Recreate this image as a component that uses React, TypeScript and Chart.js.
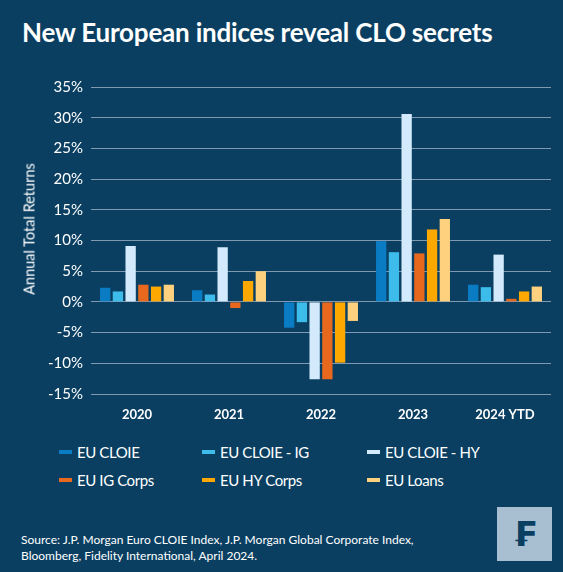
import React, { useEffect, useRef } from "react";
import { Chart, registerables } from "chart.js";

Chart.register(...registerables);

const categories = ["2020", "2021", "2022", "2023", "2024 YTD"];
const seriesNames = ["EU CLOIE", "EU CLOIE - IG", "EU CLOIE - HY", "EU IG Corps", "EU HY Corps", "EU Loans"];
const euCloie = [2.3, 1.9, -4.2, 9.9, 2.8];
const euCloieIG = [1.7, 1.2, -3.3, 8.1, 2.4];
const euCloieHY = [9.1, 8.9, -12.6, 30.6, 7.7];
const euIGCorps = [2.8, -1.0, -12.6, 7.9, 0.5];
const euHYCorps = [2.5, 3.4, -9.9, 11.8, 1.7];
const euLoans = [2.8, 5.0, -3.1, 13.5, 2.5];
const seriesColors = ["#0a7cc4", "#3dbbeb", "#d2eafb", "#e8691e", "#fca800", "#fed17e"];
const yTicks = [-15, -10, -5, 0, 5, 10, 15, 20, 25, 30, 35];
const yAxisTitle = "Annual Total Returns";

const BG = "#0a3f62";
const FONT = "Lato, 'Open Sans', Arial, sans-serif";

export default function App() {
  const ref = useRef<HTMLCanvasElement | null>(null);

  useEffect(() => {
    if (!ref.current) return;
    const values = [euCloie, euCloieIG, euCloieHY, euIGCorps, euHYCorps, euLoans];
    const chart = new Chart(ref.current, {
      type: "bar",
      data: {
        labels: categories,
        datasets: seriesNames.map((name, i) => ({
          label: name,
          data: values[i],
          backgroundColor: seriesColors[i],
          borderWidth: 0,
          categoryPercentage: 0.83,
          barPercentage: 0.81,
        })),
      },
      options: {
        animation: false,
        responsive: false,
        maintainAspectRatio: false,
        layout: { padding: { top: 16, right: 12, bottom: 0, left: 0 } },
        plugins: {
          legend: { display: false },
          tooltip: { enabled: false },
        },
        scales: {
          x: {
            grid: { display: false },
            border: { display: false },
            ticks: {
              color: "#ffffff",
              font: { family: FONT, size: 13, weight: "bold" },
              padding: 5,
            },
            afterFit: (s: any) => {
              s.height = 28;
            },
          },
          y: {
            min: -15,
            max: 35,
            afterBuildTicks: (s: any) => {
              s.ticks = yTicks.map((v) => ({ value: v }));
            },
            grid: {
              color: "#7f9ab0",
              lineWidth: 1,
              drawTicks: false,
            },
            border: { display: false },
            ticks: {
              color: "#ffffff",
              font: { family: FONT, size: 15 },
              padding: 8,
              callback: (v: any) => v + "%",
            },
            afterFit: (s: any) => {
              s.width = 91;
            },
          },
        },
      },
    });
    return () => chart.destroy();
  }, []);

  const legendItem = (i: number) => (
    <div key={i} style={{ display: "flex", alignItems: "center", height: 28 }}>
      <span
        style={{
          display: "inline-block",
          width: 13,
          height: 4,
          background: seriesColors[i],
          marginRight: 5,
        }}
      />
      <span style={{ letterSpacing: -0.4 }}>{seriesNames[i]}</span>
    </div>
  );

  return (
    <div
      style={{
        position: "fixed",
        left: 0,
        top: 0,
        width: 563,
        height: 572,
        background: BG,
        overflow: "hidden",
        fontFamily: FONT,
        color: "#ffffff",
      }}
    >
      <div
        style={{
          position: "absolute",
          left: 22,
          top: 16,
          fontSize: 26,
          fontWeight: 700,
          whiteSpace: "nowrap",
          letterSpacing: -0.2,
        }}
      >
        New European indices reveal CLO secrets
      </div>
      <canvas
        ref={ref}
        width={563}
        height={352}
        style={{ position: "absolute", left: 0, top: 70, width: 563, height: 352 }}
      />
      <div
        style={{
          position: "absolute",
          left: 29,
          top: 229,
          transform: "translate(-50%, -50%) rotate(-90deg)",
          fontSize: 14.5,
          whiteSpace: "nowrap",
        }}
      >
        {yAxisTitle}
      </div>
      <div
        style={{
          position: "absolute",
          left: 59,
          top: 438,
          display: "grid",
          gridTemplateColumns: "143px 165px 160px",
          fontSize: 15,
        }}
      >
        {[0, 1, 2, 3, 4, 5].map((i) => legendItem(i))}
      </div>
      <div
        style={{
          position: "absolute",
          left: 21,
          top: 532,
          fontSize: 12,
          lineHeight: "16px",
        }}
      >
        Source: J.P. Morgan Euro CLOIE Index, J.P. Morgan Global Corporate Index,
        <br />
        Bloomberg, Fidelity International, April 2024.
      </div>
      <div
        style={{
          position: "absolute",
          left: 497,
          top: 507,
          width: 55,
          height: 54,
          background: "#a8bfd2",
          color: "#0a3f62",
          display: "flex",
          alignItems: "center",
          justifyContent: "center",
          fontSize: 34,
          fontWeight: 700,
          fontFamily: "'DejaVu Sans', sans-serif",
        }}
      >
        ₣
      </div>
    </div>
  );
}
